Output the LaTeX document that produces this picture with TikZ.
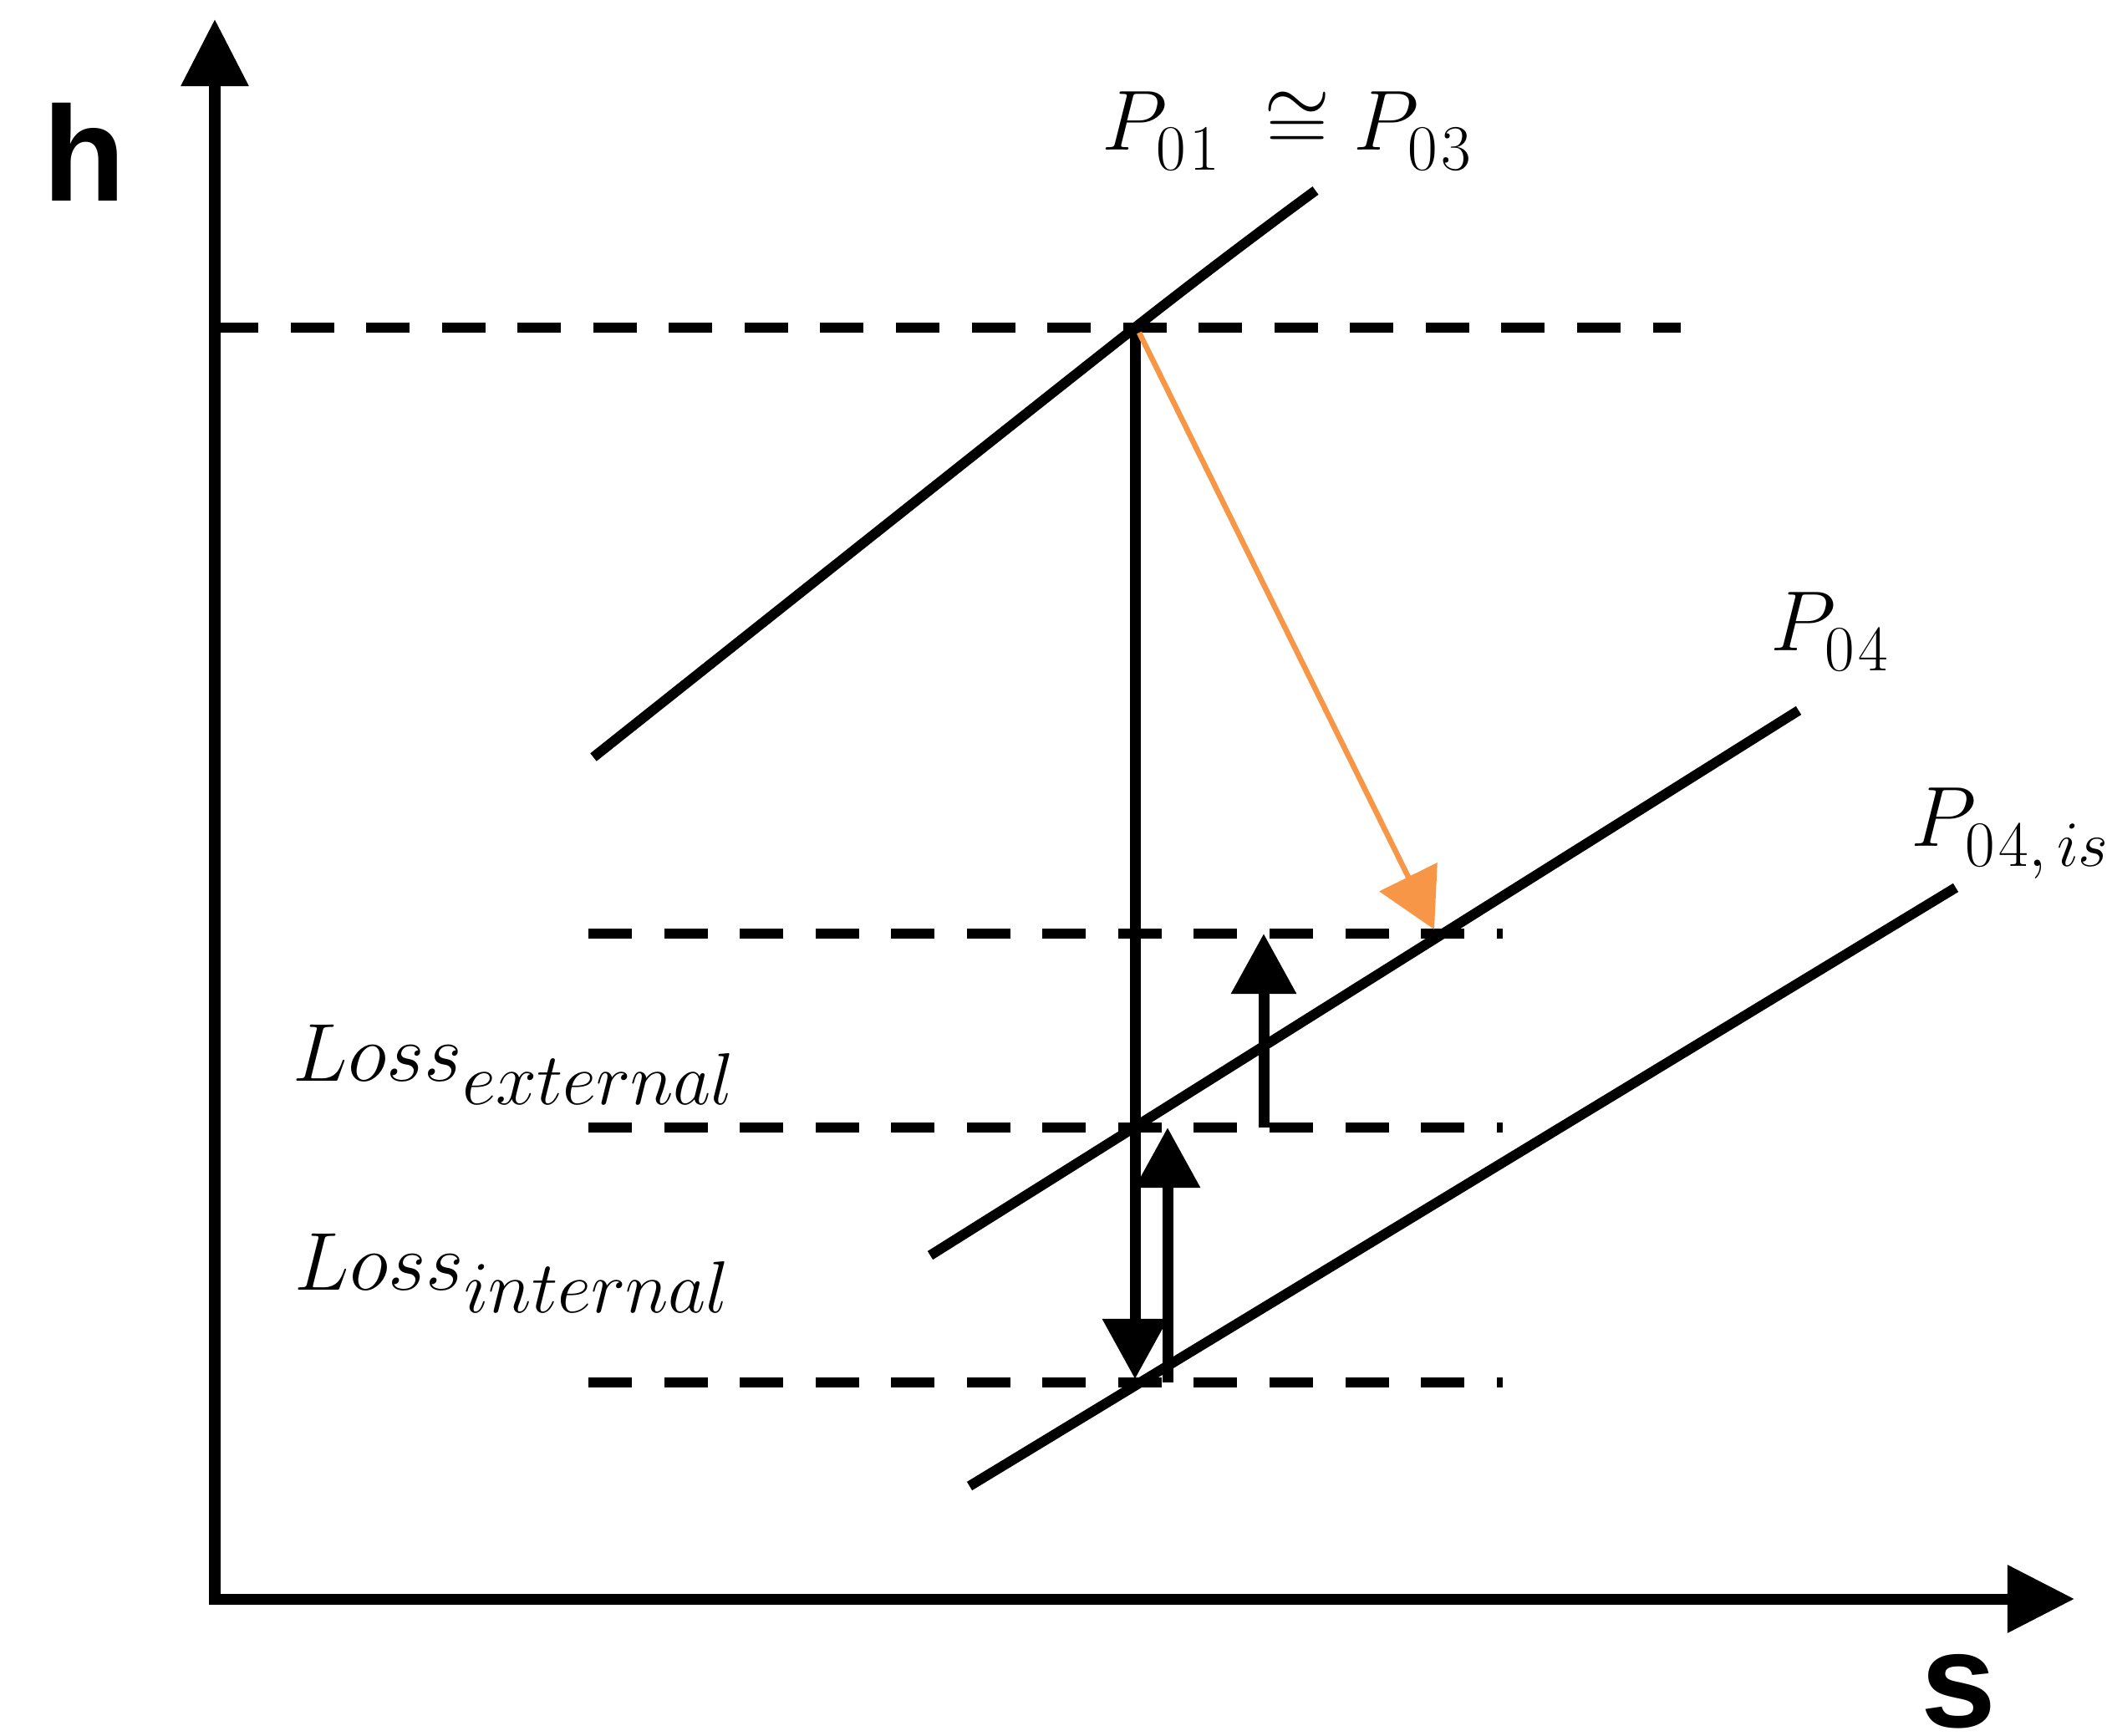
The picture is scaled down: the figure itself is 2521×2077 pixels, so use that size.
\RequirePackage{fix-cm}
\documentclass[tikz,border=0pt]{standalone}
\usepackage{fontspec}
\newfontfamily\axisfont{Liberation Sans}
\usetikzlibrary{arrows.meta}
\definecolor{orng}{RGB}{247,150,70}
\newcommand\subtx[2]{\raisebox{-2.4pt}{\fontsize{#1}{#1}\selectfont$#2$}}
\begin{document}
\begin{tikzpicture}[x=0.01cm,y=-0.01cm,
  axis/.style={line width=0.13cm, line join=miter, {Triangle[length=0.8cm,width=0.78cm]}-{Triangle[length=0.8cm,width=0.78cm]}},
  isobar/.style={line width=0.12cm},
  guide/.style={line width=0.125cm, dash pattern=on 0.52cm off 0.385cm},
  drop/.style={line width=0.13cm, -{Triangle[length=0.72cm,width=0.75cm]}},
  expansion/.style={draw=orng, line width=0.065cm, -{Triangle[length=0.7cm,width=0.76cm]}},
  axlabel/.style={font=\axisfont\bfseries\fontsize{46}{50}\selectfont, inner sep=0pt, anchor=base},
  mlabel/.style={font=\fontsize{29}{34}\selectfont, inner sep=0pt, anchor=base west},
  losslabel/.style={font=\fontsize{28}{33}\selectfont, inner sep=0pt, anchor=base west}
]
\useasboundingbox (0,0) rectangle (2521,2077);

% axes
\coordinate (ytop) at (257,23);
\coordinate (origin) at (257,1913);
\coordinate (xend) at (2482,1913);
\draw[axis] (ytop) -- (origin) -- (xend);
\node[axlabel] (hlab) at (101,241) {h};
\node[axlabel] (slab) at (2343,2066) {s};

% dashed guide lines
\coordinate (g0a) at (257,392);  \coordinate (g0b) at (2011,392);
\coordinate (g1a) at (704,1117); \coordinate (g1b) at (1798,1117);
\coordinate (g2a) at (704,1349); \coordinate (g2b) at (1798,1349);
\coordinate (g3a) at (704,1654); \coordinate (g3b) at (1798,1654);
\draw[guide] (g0a) -- (g0b);
\draw[guide] (g1a) -- (g1b);
\draw[guide] (g2a) -- (g2b);
\draw[guide] (g3a) -- (g3b);

% isobars
\coordinate (a1) at (710,906);  \coordinate (s1) at (1358,392); \coordinate (a2) at (1574,228);
\coordinate (b1) at (1113,1502); \coordinate (b2) at (2152,850);
\coordinate (c1) at (1160,1778); \coordinate (c2) at (2340,1062);
\draw[isobar] plot[smooth] coordinates {(a1) (s1) (a2)};
\draw[isobar] (b1) -- (b2);
\draw[isobar] (c1) -- (c2);

% vertical arrows
\coordinate (vbot) at (1358,1650);
\coordinate (u2a) at (1397,1654); \coordinate (u2b) at (1397,1349);
\coordinate (u1a) at (1512,1349); \coordinate (u1b) at (1512,1117);
\draw[drop] (s1) -- (vbot);
\draw[drop] (u2a) -- (u2b);
\draw[drop] (u1a) -- (u1b);

% real expansion
\coordinate (e0) at (1363,398);
\coordinate (e1) at (1716,1112);
\draw[expansion] (e0) -- (e1);

% labels
\node[mlabel] (p01) at (1318,180) {$P_{\subtx{22}{0\kern1.5pt1}}\mkern4mu\cong P_{\subtx{22}{0\kern1.5pt3}}$};
\node[mlabel] (p04) at (2118,779) {$P_{\subtx{22}{0\kern1.5pt4}}$};
\node[mlabel] (p04is) at (2286,1013) {$P_{\subtx{22}{0\kern1.5pt4,is}}$};
\node[losslabel] (lext) at (350,1294) {$Loss_{\subtx{25}{external}}$};
\node[losslabel] (lint) at (352,1543) {$Loss_{\subtx{25}{internal}}$};
\end{tikzpicture}
\end{document}
